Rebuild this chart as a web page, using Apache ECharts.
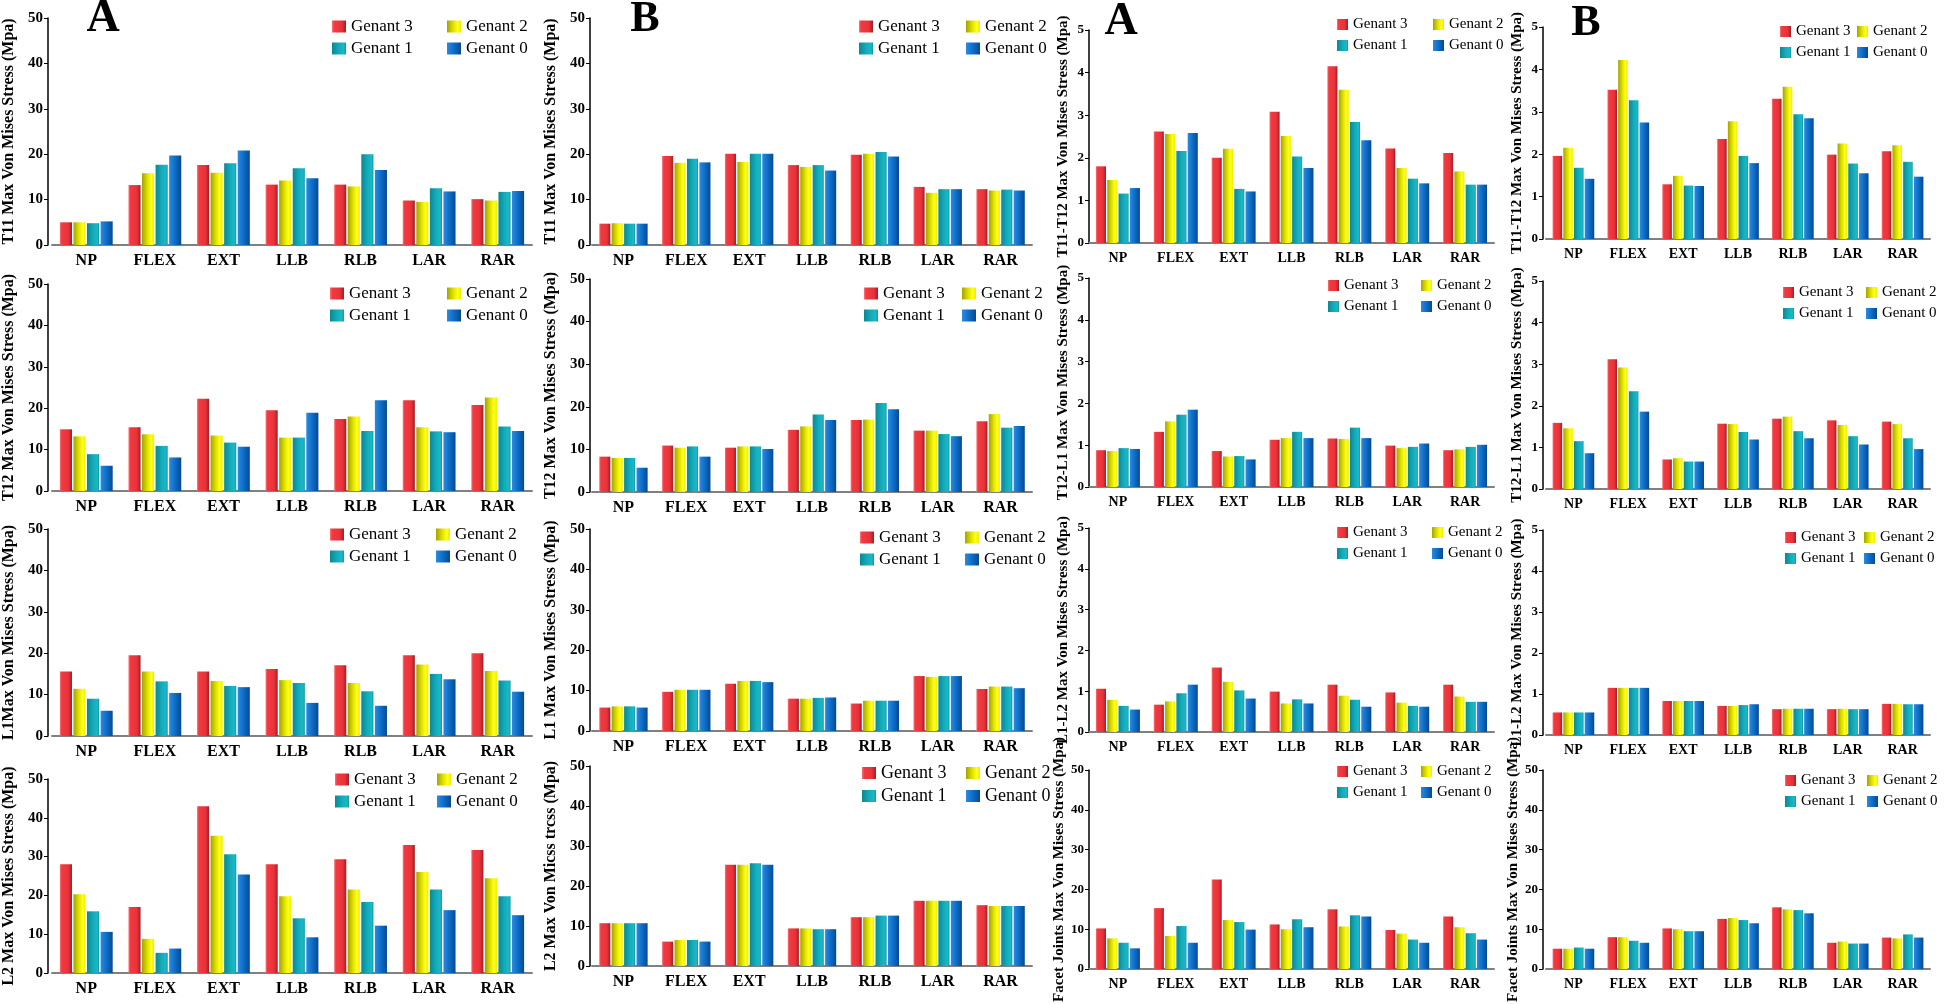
<!DOCTYPE html>
<html>
<head>
<meta charset="utf-8">
<script src="https://cdn.jsdelivr.net/npm/echarts@6/dist/echarts.min.js"></script>
<style>
html, body { margin: 0; padding: 0; background: #fff; }
#chart { width: 1946px; height: 1004px; }
</style>
</head>
<body>
<div id="chart"></div>
<script>
const categories = ['NP', 'FLEX', 'EXT', 'LLB', 'RLB', 'LAR', 'RAR'];
const genants = ['Genant 3', 'Genant 2', 'Genant 1', 'Genant 0'];

// each row is one movement: [Genant 3, Genant 2, Genant 1, Genant 0]
const t11A = [[5.0, 5.0, 4.8, 5.2], [13.2, 15.8, 17.7, 19.7], [17.6, 15.9, 18.0, 20.8], [13.3, 14.2, 16.9, 14.7], [13.3, 12.9, 20.0, 16.5], [9.8, 9.5, 12.5, 11.8], [10.1, 9.8, 11.7, 11.9]];
const t12A = [[14.9, 13.2, 8.9, 6.1], [15.4, 13.7, 10.9, 8.1], [22.3, 13.4, 11.7, 10.7], [19.5, 12.9, 12.9, 18.9], [17.4, 18.0, 14.5, 21.9], [21.9, 15.4, 14.4, 14.2], [20.8, 22.6, 15.6, 14.5]];
const l1A = [[15.6, 11.4, 9.0, 6.1], [19.5, 15.6, 13.2, 10.4], [15.6, 13.3, 12.1, 11.8], [16.2, 13.5, 12.8, 8.0], [17.1, 12.8, 10.8, 7.3], [19.5, 17.3, 15.0, 13.7], [20.0, 15.7, 13.4, 10.7]];
const l2A = [[28.0, 20.3, 15.9, 10.6], [17.0, 8.8, 5.2, 6.3], [43.0, 35.4, 30.6, 25.4], [28.0, 19.8, 14.1, 9.2], [29.3, 21.5, 18.3, 12.2], [33.0, 26.0, 21.5, 16.2], [31.7, 24.4, 19.8, 14.9]];

const t11B = [[4.7, 4.8, 4.7, 4.7], [19.6, 18.1, 19.0, 18.2], [20.1, 18.3, 20.1, 20.1], [17.6, 17.2, 17.6, 16.4], [19.9, 20.1, 20.5, 19.5], [12.8, 11.5, 12.3, 12.3], [12.3, 12.0, 12.2, 12.0]];
const t12B = [[8.3, 8.0, 8.0, 5.7], [10.9, 10.4, 10.7, 8.3], [10.4, 10.7, 10.7, 10.1], [14.6, 15.4, 18.2, 16.9], [16.9, 17.0, 20.9, 19.4], [14.4, 14.4, 13.6, 13.1], [16.6, 18.3, 15.1, 15.5]];
const l1B = [[5.8, 6.1, 6.1, 5.8], [9.7, 10.2, 10.2, 10.2], [11.7, 12.4, 12.4, 12.1], [8.0, 8.0, 8.2, 8.3], [6.8, 7.5, 7.5, 7.5], [13.6, 13.4, 13.6, 13.6], [10.4, 11.0, 11.0, 10.6]];
const l2B = [[10.7, 10.7, 10.7, 10.7], [6.1, 6.5, 6.5, 6.1], [25.3, 25.3, 25.7, 25.3], [9.4, 9.4, 9.2, 9.2], [12.2, 12.2, 12.6, 12.6], [16.3, 16.3, 16.3, 16.3], [15.2, 15.0, 15.0, 15.0]];

const t11t12A = [[1.80, 1.48, 1.16, 1.29], [2.62, 2.56, 2.16, 2.58], [2.00, 2.21, 1.27, 1.21], [3.08, 2.51, 2.03, 1.76], [4.15, 3.60, 2.84, 2.41], [2.22, 1.76, 1.51, 1.40], [2.11, 1.68, 1.37, 1.37]];
const t12l1A = [[0.88, 0.86, 0.93, 0.91], [1.32, 1.57, 1.73, 1.85], [0.86, 0.73, 0.74, 0.66], [1.13, 1.17, 1.32, 1.17], [1.16, 1.15, 1.42, 1.17], [0.99, 0.93, 0.96, 1.04], [0.88, 0.90, 0.96, 1.01]];
const l1l2A = [[1.06, 0.79, 0.64, 0.55], [0.67, 0.75, 0.95, 1.16], [1.58, 1.23, 1.02, 0.82], [0.99, 0.70, 0.80, 0.70], [1.16, 0.89, 0.79, 0.62], [0.97, 0.72, 0.64, 0.62], [1.16, 0.87, 0.74, 0.74]];
const facetA = [[10.2, 7.7, 6.6, 5.2], [15.3, 8.3, 10.8, 6.6], [22.5, 12.3, 11.8, 9.9], [11.2, 10.0, 12.5, 10.5], [15.0, 10.7, 13.5, 13.2], [9.8, 8.9, 7.4, 6.6], [13.2, 10.5, 9.0, 7.4]];

const t11t12B = [[1.96, 2.15, 1.68, 1.42], [3.52, 4.22, 3.27, 2.75], [1.29, 1.49, 1.26, 1.25], [2.36, 2.78, 1.96, 1.79], [3.31, 3.59, 2.94, 2.85], [1.99, 2.25, 1.78, 1.55], [2.07, 2.21, 1.82, 1.47]];
const t12l1B = [[1.59, 1.46, 1.15, 0.86], [3.12, 2.92, 2.35, 1.86], [0.71, 0.74, 0.66, 0.66], [1.57, 1.56, 1.37, 1.19], [1.69, 1.74, 1.39, 1.22], [1.65, 1.54, 1.27, 1.07], [1.62, 1.56, 1.22, 0.96]];
const l1l2B = [[0.55, 0.55, 0.55, 0.55], [1.15, 1.15, 1.15, 1.15], [0.83, 0.83, 0.83, 0.83], [0.71, 0.71, 0.73, 0.75], [0.63, 0.64, 0.64, 0.64], [0.63, 0.64, 0.63, 0.63], [0.76, 0.76, 0.75, 0.75]];
const facetB = [[5.1, 5.1, 5.4, 5.1], [8.0, 8.0, 7.1, 6.6], [10.2, 10.0, 9.5, 9.5], [12.6, 12.8, 12.3, 11.5], [15.5, 15.0, 14.8, 14.0], [6.6, 6.9, 6.4, 6.4], [7.9, 7.7, 8.7, 7.9]];

const panels = [
    { vals: t11A, name: 'T11 Max Von Mises Stress (Mpa)', row: 0, col: 0, max: 50 },
    { vals: t12A, name: 'T12 Max Von Mises Stress (Mpa)', row: 1, col: 0, max: 50 },
    { vals: l1A, name: 'L1Max Von Mises Stress (Mpa)', row: 2, col: 0, max: 50 },
    { vals: l2A, name: 'L2 Max Von Mises Stress (Mpa)', row: 3, col: 0, max: 50 },
    { vals: t11B, name: 'T11 Max Von Mises Stress (Mpa)', row: 0, col: 1, max: 50 },
    { vals: t12B, name: 'T12 Max Von Mises Stress (Mpa)', row: 1, col: 1, max: 50 },
    { vals: l1B, name: 'L1 Max Von Mises Stress (Mpa)', row: 2, col: 1, max: 50 },
    { vals: l2B, name: 'L2 Max Von Micss trcss (Mpa)', row: 3, col: 1, max: 50 },
    { vals: t11t12A, name: 'T11-T12 Max Von Mises Stress (Mpa)', row: 0, col: 2, max: 5 },
    { vals: t12l1A, name: 'T12-L1 Max Von Mises Stress (Mpa)', row: 1, col: 2, max: 5 },
    { vals: l1l2A, name: 'L1-L2 Max Von Mises Stress (Mpa)', row: 2, col: 2, max: 5 },
    { vals: facetA, name: 'Facet Joints Max Von Mises Stress (Mpa)', row: 3, col: 2, max: 50 },
    { vals: t11t12B, name: 'T11-T12 Max Von Mises Stress (Mpa)', row: 0, col: 3, max: 5 },
    { vals: t12l1B, name: 'T12-L1 Max Von Mises Stress (Mpa)', row: 1, col: 3, max: 5 },
    { vals: l1l2B, name: 'L1-L2 Max Von Mises Stress (Mpa)', row: 2, col: 3, max: 5 },
    { vals: facetB, name: 'Facet Joints Max Von Mises Stress (Mpa)', row: 3, col: 3, max: 50 }
];

// layout (pixels)
const colLeft = [52, 592, 1089, 1546];
const colWidth = [480, 440, 405, 384];
const axisShift = [4, 2, 0, 3];
const rowTop = [[18, 18, 30, 27], [284, 279, 278, 281], [529, 529, 528, 530], [779, 766, 770, 770]];
const rowBottom = [[245, 245, 243, 239], [491, 492, 487, 489], [736, 731, 732, 735], [973, 966, 980, 980]];
// legend: [x of first column, x of second column, top]
const legendPos = [
    [[332, 447, 18], [859, 966, 18], [1337, 1433, 17], [1780, 1857, 24]],
    [[330, 447, 285], [864, 962, 285], [1328, 1421, 278], [1783, 1866, 285]],
    [[330, 436, 526], [860, 965, 529], [1337, 1432, 525], [1785, 1864, 530]],
    [[335, 437, 771], [862, 966, 764], [1337, 1421, 764], [1785, 1867, 773]]
];

const serif = 'Liberation Serif';

function grad(stops) {
    return {
        type: 'linear', x: 0, y: 0, x2: 1, y2: 0,
        colorStops: stops.map(s => ({ offset: s[0], color: s[1] }))
    };
}
const barColors = [
    grad([[0, '#f7777a'], [0.15, '#f23a40'], [0.7, '#e8323a'], [1, '#a01f24']]),
    grad([[0, '#a3a300'], [0.45, '#e2e200'], [0.75, '#ffff1a'], [1, '#eeee00']]),
    grad([[0, '#0b8794'], [0.5, '#14abba'], [0.85, '#1ab9c8'], [1, '#0f95a3']]),
    grad([[0, '#2a8be0'], [0.5, '#0d6cc6'], [1, '#064a90']])
];

const chartDom = document.getElementById('chart');
const myChart = echarts.init(chartDom);

const option = {
    animation: false,
    backgroundColor: '#fff',
    graphic: [
        { type: 'text', x: 103, y: 19, style: { text: 'A', font: 'bold 46px "Liberation Serif"', fill: '#000', textAlign: 'center', textVerticalAlign: 'middle' } },
        { type: 'text', x: 645, y: 20, style: { text: 'B', font: 'bold 44px "Liberation Serif"', fill: '#000', textAlign: 'center', textVerticalAlign: 'middle' } },
        { type: 'text', x: 1121, y: 22, style: { text: 'A', font: 'bold 46px "Liberation Serif"', fill: '#000', textAlign: 'center', textVerticalAlign: 'middle' } },
        { type: 'text', x: 1586, y: 24, style: { text: 'B', font: 'bold 44px "Liberation Serif"', fill: '#000', textAlign: 'center', textVerticalAlign: 'middle' } }
    ],
    grid: [],
    xAxis: [],
    yAxis: [],
    legend: [],
    series: []
};

panels.forEach(function (p, i) {
    const c = p.col;
    const r = p.row;
    const big = c < 2;
    option.grid.push({
        left: colLeft[c],
        width: colWidth[c],
        top: rowTop[r][c],
        height: rowBottom[r][c] - rowTop[r][c]
    });
    option.xAxis.push({
        type: 'category',
        gridIndex: i,
        data: categories,
        axisTick: { show: false },
        axisLine: { lineStyle: { color: '#808080', width: 2 } },
        axisLabel: { color: '#000', fontFamily: serif, fontWeight: 'bold', fontSize: big ? 16 : 14, margin: 8 }
    });
    option.yAxis.push({
        type: 'value',
        gridIndex: i,
        min: 0,
        max: p.max,
        interval: p.max / 5,
        offset: axisShift[c],
        splitLine: { show: false },
        axisLine: { show: true, lineStyle: { color: '#000', width: 1.5 } },
        axisTick: { show: true, length: 4, lineStyle: { color: '#000' } },
        axisLabel: { color: '#000', fontFamily: serif, fontWeight: 'bold', fontSize: big ? 15 : 13, margin: 5 },
        name: p.name,
        nameLocation: 'middle',
        nameGap: big ? 31 : 18,
        nameTextStyle: { color: '#000', fontFamily: serif, fontWeight: 'bold', fontSize: big ? 16 : 15 }
    });
    genants.forEach(function (g, k) {
        option.series.push({
            type: 'bar',
            name: g,
            xAxisIndex: i,
            yAxisIndex: i,
            data: p.vals.map(v => v[k]),
            itemStyle: { color: barColors[k] },
            barCategoryGap: big ? '23%' : '24%',
            barGap: '12%'
        });
    });
    // legend in two columns: (Genant 3, Genant 1) and (Genant 2, Genant 0)
    const lp = legendPos[r][c];
    const legendFont = (r === 3 && c === 1) ? 18 : (big ? 17 : 15);
    [['Genant 3', 'Genant 1'], ['Genant 2', 'Genant 0']].forEach(function (names, j) {
        option.legend.push({
            data: names,
            orient: 'vertical',
            left: lp[j],
            top: lp[2],
            padding: 0,
            itemGap: big ? 5 : 6,
            itemWidth: big ? 14 : 11,
            itemHeight: big ? 12 : 11,
            icon: 'rect',
            selectedMode: false,
            textStyle: { color: '#000', fontFamily: serif, fontSize: legendFont }
        });
    });
});

myChart.setOption(option);
window.onresize = function () {
    myChart.resize();
};
</script>
</body>
</html>
